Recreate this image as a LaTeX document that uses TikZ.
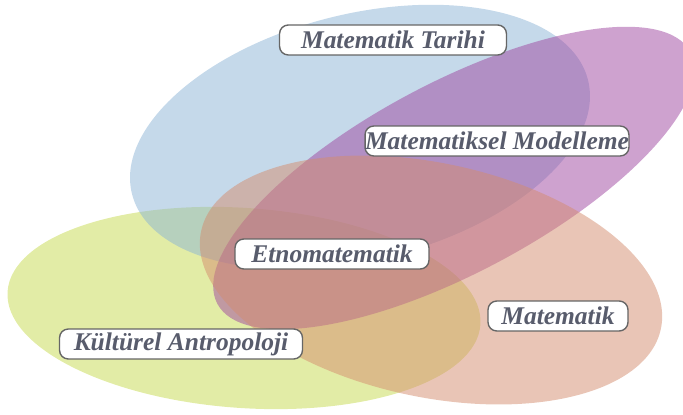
\documentclass[tikz,border=0pt]{standalone}
\usepackage{fontspec}
\setmainfont{Liberation Serif}
\definecolor{tarihc}{RGB}{139,179,213}
\definecolor{modelc}{RGB}{158,70,160}
\definecolor{matc}{RGB}{212,140,110}
\definecolor{kultc}{RGB}{198,218,78}
\definecolor{textc}{RGB}{88,92,108}
\tikzset{
    label box/.style={draw=black!60,line width=0.8pt,fill=white,rounded corners=5pt,
        inner xsep=0pt,inner ysep=0pt,minimum height=0.6cm,text=textc,
        font=\fontsize{14.5}{16}\selectfont\bfseries\itshape}
}

\begin{document}
\begin{tikzpicture}[x=0.02cm,y=-0.02cm]
    \useasboundingbox (0,0) rectangle (683,415);
    \begin{scope}[every path/.style={fill opacity=0.5}]
        \fill[kultc] (244,308) ellipse [x radius=237, y radius=100, rotate=-4];
        \fill[tarihc] (360,137) ellipse [x radius=235, y radius=123, rotate=14];
        \fill[modelc] (454,178) ellipse [x radius=268, y radius=95, rotate=28];
        \fill[matc] (431,280) ellipse [x radius=235, y radius=117, rotate=-12];
    \end{scope}
    \node[label box,minimum width=4.54cm] (tarihi) at (393,40) {Matematik Tarihi};
    \node[label box,minimum width=5.14cm] (modelleme) at (497,141) {Matematiksel Modelleme};
    \node[label box,minimum width=3.88cm] (etno) at (332,254) {Etnomatematik};
    \node[label box,minimum width=4.86cm] (kultur) at (181,344) {Kültürel Antropoloji};
    \node[label box,minimum width=2.8cm] (matematik) at (558,316) {Matematik};
\end{tikzpicture}
\end{document}
